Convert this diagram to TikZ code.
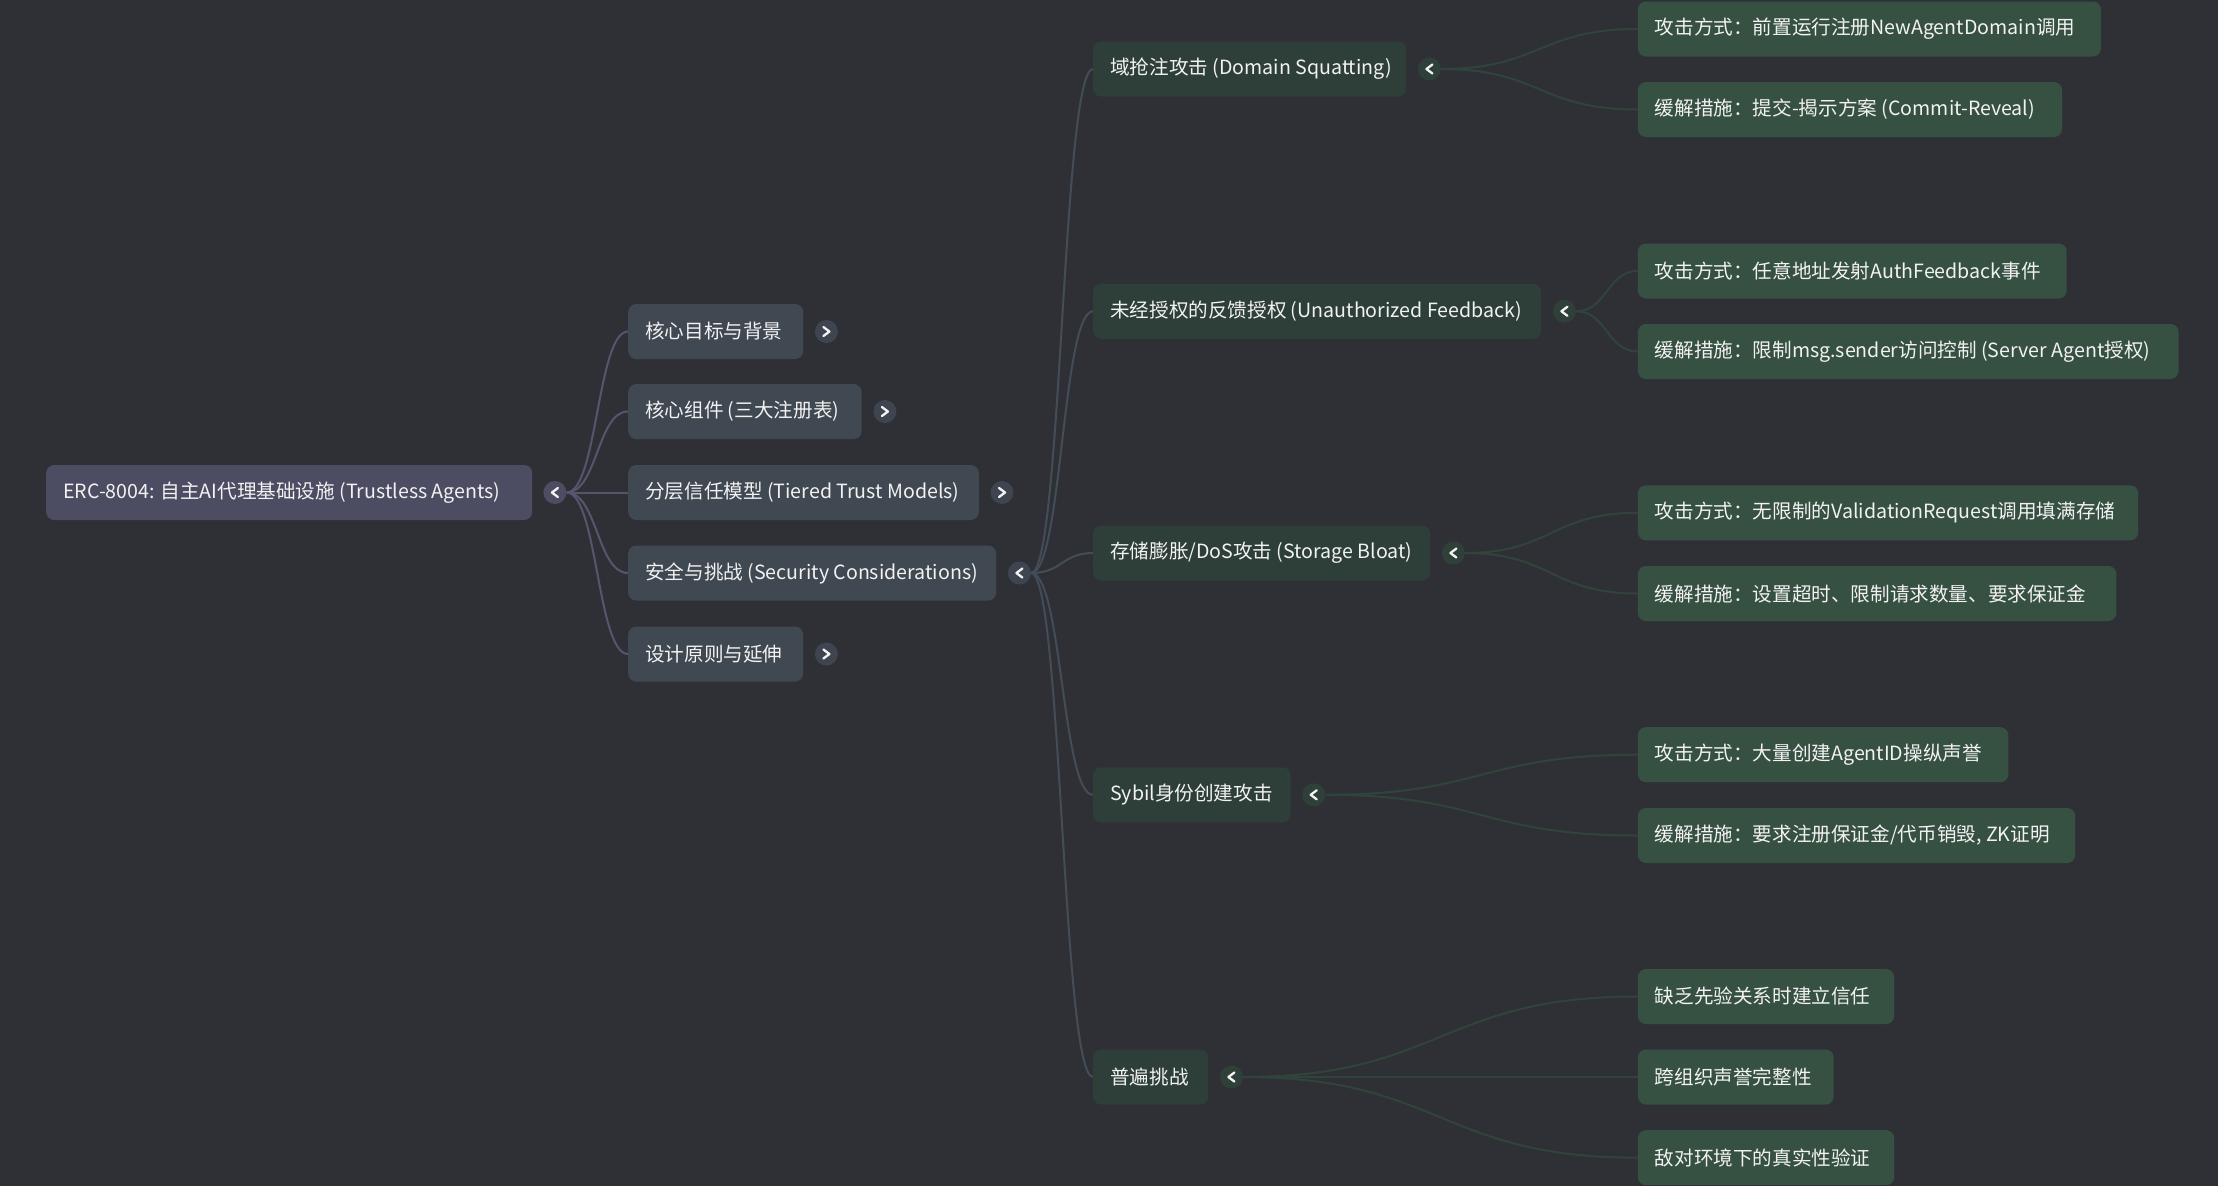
\documentclass[tikz,border=0pt]{standalone}
\usepackage{fontspec}
\setmainfont{Noto Sans CJK SC}
\usetikzlibrary{calc}
\definecolor{bgc}{HTML}{2F3035}
\definecolor{rootfill}{HTML}{4C4C63}
\definecolor{rootdot}{HTML}{4C4C63}
\definecolor{rootline}{HTML}{55556F}
\definecolor{lonefill}{HTML}{404852}
\definecolor{lonedot}{HTML}{3E4550}
\definecolor{loneline}{HTML}{434D58}
\definecolor{ltwofill}{HTML}{2E3F39}
\definecolor{ltwodot}{HTML}{2F4039}
\definecolor{ltwoline}{HTML}{31443C}
\definecolor{lthreefill}{HTML}{365042}
\definecolor{txt}{HTML}{F2F2F2}
\pgfdeclarelayer{bg}
\pgfsetlayers{bg,main}
\newcommand\chevL[1]{\draw[chev] ([shift={(3,-4.5)}]#1.center) -- ([shift={(-3,0)}]#1.center) -- ([shift={(3,4.5)}]#1.center);}
\newcommand\chevR[1]{\draw[chev] ([shift={(-3,-4.5)}]#1.center) -- ([shift={(3,0)}]#1.center) -- ([shift={(-3,4.5)}]#1.center);}
\newcommand\conn[3]{%
  \coordinate (mid) at ($(#2)!0.5!(#3)$);
  \draw[#1] (#2) .. controls (mid |- #2) and (mid |- #3) .. (#3);}
\newcommand\lbl[2]{\makebox[#1][l]{#2}}
\begin{document}
\begin{tikzpicture}[x=1pt,y=-1pt,
  box/.style={rounded corners=8pt, minimum height=55pt, inner xsep=17pt, inner ysep=0pt, anchor=west, text=txt, font=\fontsize{19.6pt}{24pt}\selectfont},
  rootbox/.style={box, fill=rootfill},
  lonebox/.style={box, fill=lonefill},
  ltwobox/.style={box, fill=ltwofill},
  lthreebox/.style={box, fill=lthreefill},
  dot/.style={circle, minimum size=23pt, inner sep=0pt},
  chev/.style={draw=txt, line width=2.3pt, line cap=round, line join=round},
  conroot/.style={draw=rootline, line width=2pt},
  conone/.style={draw=loneline, line width=2pt},
  contwo/.style={draw=ltwoline, line width=2pt}]
\useasboundingbox (0,0) rectangle (2218,1186);

% root
\node[rootbox] (root) at (46,492.5) {\lbl{452pt}{ERC-8004: 自主AI代理基础设施 (Trustless Agents)}};
\node[dot, fill=rootdot] (c0) at ([xshift=22.5pt]root.east) {};
\chevL{c0}

% level 1
\node[lonebox] (la) at (628,331.5) {\lbl{141pt}{核心目标与背景}};
\node[lonebox] (lb) at (628,411.5) {\lbl{199.5pt}{核心组件 (三大注册表)}};
\node[lonebox] (lc) at (628,492.5) {\lbl{316.6pt}{分层信任模型 (Tiered Trust Models)}};
\node[lonebox] (ld) at (628,573) {\lbl{334pt}{安全与挑战 (Security Considerations)}};
\node[lonebox] (le) at (628,654) {\lbl{141pt}{设计原则与延伸}};
\foreach \n in {la,lb,lc,le}{
  \node[dot, fill=lonedot] (c\n) at ([xshift=23pt]\n.east) {};
  \chevR{c\n}
}
\node[dot, fill=lonedot] (cld) at ([xshift=23pt]ld.east) {};
\chevL{cld}

% level 2
\node[ltwobox] (ma) at (1093,69) {\lbl{279pt}{域抢注攻击 (Domain Squatting)}};
\node[ltwobox] (mb) at (1093,311.3) {\lbl{414pt}{未经授权的反馈授权 (Unauthorized Feedback)}};
\node[ltwobox] (mc) at (1093,553) {\lbl{303pt}{存储膨胀/DoS攻击 (Storage Bloat)}};
\node[ltwobox] (md) at (1093,794.8) {\lbl{163.3pt}{Sybil身份创建攻击}};
\node[ltwobox] (me) at (1093,1077) {\lbl{81pt}{普遍挑战}};
\foreach \n in {ma,mb,mc,md,me}{
  \node[dot, fill=ltwodot] (c\n) at ([xshift=23pt]\n.east) {};
  \chevL{c\n}
}

% level 3
\node[lthreebox] (na) at (1637.7,29) {\lbl{429pt}{攻击方式：前置运行注册NewAgentDomain调用}};
\node[lthreebox] (nb) at (1637.7,109.5) {\lbl{390.1pt}{缓解措施：提交-揭示方案 (Commit-Reveal)}};
\node[lthreebox] (nc) at (1637.7,271) {\lbl{394.8pt}{攻击方式：任意地址发射AuthFeedback事件}};
\node[lthreebox] (nd) at (1637.7,351.5) {\lbl{506.7pt}{缓解措施：限制msg.sender访问控制 (Server Agent授权)}};
\node[lthreebox] (ne) at (1637.7,512.8) {\lbl{466.3pt}{攻击方式：无限制的ValidationRequest调用填满存储}};
\node[lthreebox] (nf) at (1637.7,593.5) {\lbl{444.5pt}{缓解措施：设置超时、限制请求数量、要求保证金}};
\node[lthreebox] (ng) at (1637.7,754.7) {\lbl{336.5pt}{攻击方式：大量创建AgentID操纵声誉}};
\node[lthreebox] (nh) at (1637.7,835.5) {\lbl{403.3pt}{缓解措施：要求注册保证金/代币销毁, ZK证明}};
\node[lthreebox] (ni) at (1637.7,996.5) {\lbl{222.3pt}{缺乏先验关系时建立信任}};
\node[lthreebox] (nj) at (1637.7,1077) {\lbl{161.8pt}{跨组织声誉完整性}};
\node[lthreebox] (nk) at (1637.7,1157.7) {\lbl{222.3pt}{敌对环境下的真实性验证}};

\begin{pgfonlayer}{bg}
\fill[bgc] (0,0) rectangle (2218,1186);
\foreach \n in {la,lb,lc,ld,le}{
  \conn{conroot}{c0.east}{\n.west}
}
\foreach \n in {ma,mb,mc,md,me}{
  \conn{conone}{cld.east}{\n.west}
}
\foreach \p/\n in {ma/na,ma/nb,mb/nc,mb/nd,mc/ne,mc/nf,md/ng,md/nh,me/ni,me/nj,me/nk}{
  \conn{contwo}{c\p.east}{\n.west}
}
\end{pgfonlayer}
\end{tikzpicture}
\end{document}
